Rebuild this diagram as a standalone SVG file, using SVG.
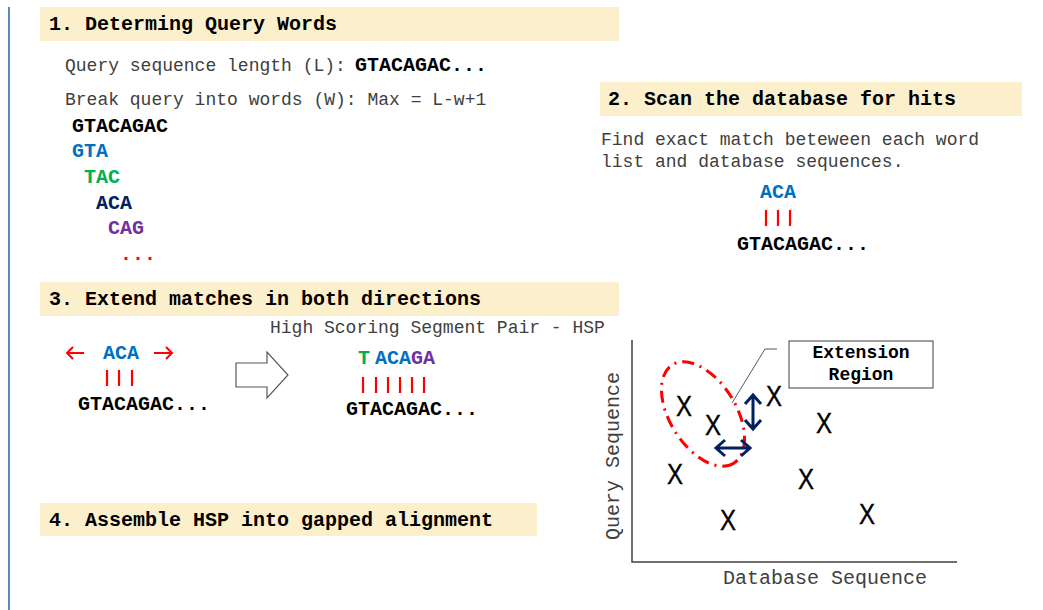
<svg xmlns="http://www.w3.org/2000/svg" width="1043" height="610" viewBox="0 0 1043 610">
<style>
.hdr{fill:#fcefcb}
.ht{font-family:"Liberation Mono",monospace;font-weight:bold;font-size:20px;fill:#000}
.gt{font-family:"Liberation Mono",monospace;font-size:18px;fill:#404040}
.sq{font-family:"Liberation Mono",monospace;font-weight:bold;font-size:20px}
.bar{stroke:#ff0000;stroke-width:2.2}
.nav{stroke:#002060;stroke-width:3;fill:none}
.x{font-family:"Liberation Sans",Arial,sans-serif;font-size:30px;fill:#000;stroke:#000;stroke-width:0.4;text-anchor:middle}
</style>
<rect width="1043" height="610" fill="#fff"/>
<line x1="9" y1="7" x2="9" y2="610" stroke="#5a86c4" stroke-width="2"/>

<g id="step1">
<rect class="hdr" x="40" y="7" width="579" height="34"/>
<text class="ht" x="49" y="30">1. Determing Query Words</text>
<text class="gt" x="65" y="71">Query sequence length (L): <tspan class="sq" x="355" fill="#000">GTACAGAC...</tspan></text>
<text class="gt" x="65" y="105">Break query into words (W): Max = L-w+1</text>
<text class="sq" x="72" y="132" fill="#000">GTACAGAC</text>
<text class="sq" x="72" y="157" fill="#0070c0">GTA</text>
<text class="sq" x="84" y="183" fill="#00b050">TAC</text>
<text class="sq" x="96" y="209" fill="#002060">ACA</text>
<text class="sq" x="108" y="234" fill="#7030a0">CAG</text>
<text class="sq" x="120" y="260" fill="#ff0000">...</text>
</g>

<g id="step2">
<rect class="hdr" x="600" y="82" width="422" height="34"/>
<text class="ht" x="608" y="105">2. Scan the database for hits</text>
<text class="gt" x="601" y="145">Find exact match beteween each word</text>
<text class="gt" x="601" y="167">list and database sequences.</text>
<text class="sq" x="760" y="198" fill="#0070c0">ACA</text>
<line class="bar" x1="766" y1="210" x2="766" y2="226"/>
<line class="bar" x1="778" y1="210" x2="778" y2="226"/>
<line class="bar" x1="790" y1="210" x2="790" y2="226"/>
<text class="sq" x="737" y="250" fill="#000">GTACAGAC...</text>
</g>

<g id="step3">
<rect class="hdr" x="40" y="282" width="579" height="34"/>
<text class="ht" x="49" y="305">3. Extend matches in both directions</text>
<text class="gt" x="270" y="333">High Scoring Segment Pair - HSP</text>
<g stroke="#ff0000" stroke-width="2" fill="none">
<path d="M67,353 H84 M73,347 L67,353 L73,359"/>
<path d="M154,353 H172 M166,347 L172,353 L166,359"/>
</g>
<text class="sq" x="103" y="359" fill="#0070c0">ACA</text>
<line class="bar" x1="107" y1="370" x2="107" y2="386"/>
<line class="bar" x1="119" y1="370" x2="119" y2="386"/>
<line class="bar" x1="132" y1="370" x2="132" y2="386"/>
<text class="sq" x="78" y="410" fill="#000">GTACAGAC...</text>
<polygon points="236,363 267,363 267,352 288,375 267,398 267,387 236,387" fill="#fff" stroke="#595959" stroke-width="1.2"/>
<text class="sq" x="358" y="364"><tspan fill="#00b050">T</tspan><tspan x="375" fill="#0070c0">ACA</tspan><tspan fill="#7030a0">GA</tspan></text>
<line class="bar" x1="363" y1="377" x2="363" y2="393"/>
<line class="bar" x1="376" y1="377" x2="376" y2="393"/>
<line class="bar" x1="388" y1="377" x2="388" y2="393"/>
<line class="bar" x1="400" y1="377" x2="400" y2="393"/>
<line class="bar" x1="412" y1="377" x2="412" y2="393"/>
<line class="bar" x1="424" y1="377" x2="424" y2="393"/>
<text class="sq" x="346" y="415" fill="#000">GTACAGAC...</text>
</g>

<g id="step4">
<rect class="hdr" x="40" y="503" width="497" height="33"/>
<text class="ht" x="49" y="526">4. Assemble HSP into gapped alignment</text>
</g>

<g id="plot">
<path d="M632,340 V562 H957" fill="none" stroke="#404040" stroke-width="1.5"/>
<text class="gt" style="font-size:20px" text-anchor="middle" transform="translate(619 456) rotate(-90)">Query Sequence</text>
<text class="gt" style="font-size:20px" x="723" y="584">Database Sequence</text>
<ellipse cx="703" cy="414" rx="58" ry="33" transform="rotate(58 703 414)" fill="none" stroke="#ff0000" stroke-width="3" stroke-dasharray="12 6 2 6"/>
<g transform="translate(684 416) scale(0.8 1)"><text class="x">X</text></g>
<g transform="translate(713 435) scale(0.8 1)"><text class="x">X</text></g>
<g transform="translate(774 406) scale(0.8 1)"><text class="x">X</text></g>
<g transform="translate(824 433) scale(0.8 1)"><text class="x">X</text></g>
<g transform="translate(675 484) scale(0.8 1)"><text class="x">X</text></g>
<g transform="translate(728 530) scale(0.8 1)"><text class="x">X</text></g>
<g transform="translate(806 489) scale(0.8 1)"><text class="x">X</text></g>
<g transform="translate(867 524) scale(0.8 1)"><text class="x">X</text></g>
<path class="nav" d="M753,396 V428 M745,404 L753,395 L761,404 M745,420 L753,429 L761,420"/>
<path class="nav" d="M717,448 H749 M725,440 L716,448 L725,456 M741,440 L750,448 L741,456"/>
</g>

<g id="callout">
<path d="M777,349 H765 L732,403" fill="none" stroke="#595959" stroke-width="1"/>
<rect x="789" y="341" width="144" height="47" fill="#fff" stroke="#404040" stroke-width="1"/>
<text class="sq" style="font-size:18px" x="861" y="358" text-anchor="middle" fill="#000">Extension</text>
<text class="sq" style="font-size:18px" x="861" y="380" text-anchor="middle" fill="#000">Region</text>
</g>
</svg>
